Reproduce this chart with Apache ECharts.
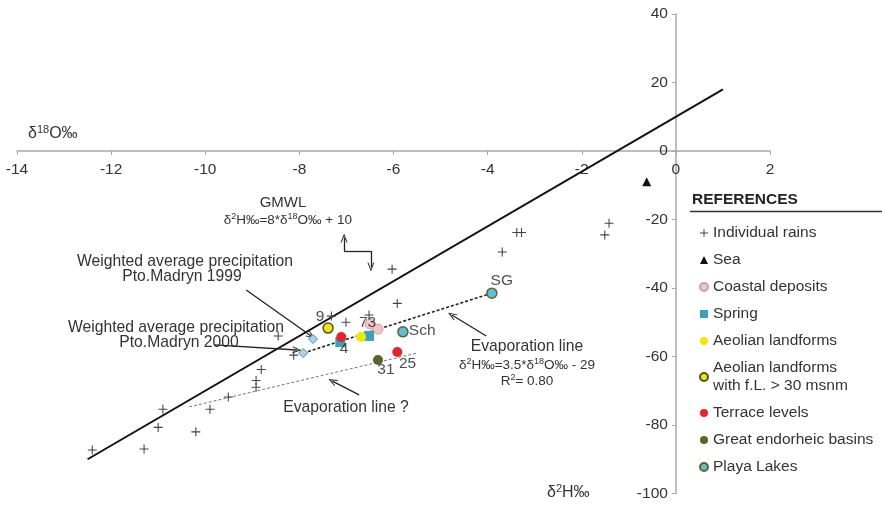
<!DOCTYPE html>
<html><head><meta charset="utf-8">
<script src="https://cdn.jsdelivr.net/npm/echarts@6/dist/echarts.min.js"></script>
<style>html,body{margin:0;padding:0;background:#fff}#c{width:882px;height:507px}</style>
</head><body><div id="c"></div>
<script>
// ---- data ----
const xTicks = [-14, 2, 2];           // x axis min, max, interval (δ18O‰)
const yTicks = [-100, 40, 20];        // y axis min, max, interval (δ2H‰)
const rains = [[-12.40,-87.3],[-11.30,-87.0],[-11.00,-80.7],[-10.90,-75.4],[-10.20,-82.0],[-9.90,-75.4],[-9.51,-71.8],[-8.92,-69.0],[-8.92,-67.0],[-8.81,-63.8],[-8.45,-54.0],[-8.12,-59.6],[-7.32,-48.2],[-7.01,-50.0],[-6.52,-47.9],[-5.92,-44.5],[-6.03,-34.5],[-3.69,-29.5],[-3.38,-23.8],[-3.28,-23.8],[-1.42,-21.1],[-1.51,-24.5]];
const sea = [[-0.62,-9.0]];
const coastal = [[-6.50,-50.5],[-6.33,-52.0]];
const spring = [[-6.52,-54.0],[-7.13,-55.8]];
const aeolian = [[-6.69,-54.3]];
const aeolianFL = [[-7.39,-51.7]];
const terrace = [[-7.11,-54.3],[-5.92,-58.7]];
const basins = [[-6.33,-61.0]];
const playa = [[-5.80,-52.8],[-3.91,-41.5]];
const weighted = [[-7.71,-54.9],[-7.92,-59.0]];
const gmwl = [[-12.5,-90],[1,18]];
const evapLine = [[-7.92,-59.0],[-3.91,-41.5]];
const evapLineQ = [[-10.34,-74.7],[-5.50,-59.0]];
const pointLabelTexts = ['9','73','4','Sch','SG','25','31'];
const pointLabelAt = [[-7.56,-48.3],[-6.55,-50.0],[-7.05,-57.8],[-5.39,-52.5],[-3.70,-38.0],[-5.70,-62.2],[-6.16,-64.0]];
const arrows = [ // [tail, head]
  [[-9.13,-40.6],[-7.75,-54.0]],
  [[-9.81,-56.6],[-8.05,-58.1]],
  [[-4.03,-54.0],[-4.76,-47.9]],
  [[-6.73,-71.2],[-7.30,-67.2]],
  [[-7.05,-29.2],[-7.05,-25.4]],
  [[-6.48,-29.2],[-6.48,-33.9]]
];
const stepLink = [[-7.05,-29.2],[-6.48,-29.2]];
const legendNames = ['Individual rains','Sea','Coastal deposits','Spring','Aeolian landforms','Aeolian landforms\nwith f.L. > 30 msnm','Terrace levels','Great endorheic basins','Playa Lakes'];

// ---- chart ----
const FONT = '"Liberation Sans", Arial, Helvetica, sans-serif';
const chart = echarts.init(document.getElementById('c'), null, {renderer:'canvas'});
const plusPath = 'path://M4.4,0h1.2v10h-1.2z M0,4.4h10v1.2h-10z';
const chevron = 'path://M5,0 L10,10 L8.6,10 L5,3 L1.4,10 L0,10 Z';
const W = 882, H = 507, GL = 17, GR = 112, GT = 14, GB = 13.5;
const pw = W - GL - GR, ph = H - GT - GB;
const zeroX = GL + pw * (0 - xTicks[0]) / (xTicks[1] - xTicks[0]);
const zeroY = GT + ph * (yTicks[1] - 0) / (yTicks[1] - yTicks[0]);

function sc(name, data, symbol, size, color, border, bw){
  return {type:'scatter', name, data, symbol, symbolSize:size,
    itemStyle:{color, borderColor:border||color, borderWidth:bw||0, opacity:1}, z:5};
}
const richDef = (fs)=>({
  n:{fontSize:fs, fontFamily:FONT, color:'#333', lineHeight:fs+3},
  s:{fontSize:Math.round(fs*0.68), fontFamily:FONT, color:'#333', verticalAlign:'top', lineHeight:fs+3}
});
function gtext(x,y,text,fs){
  return {type:'text', x, y, z:50, style:{text, fill:'#333', font: fs+'px '+FONT, align:'center', verticalAlign:'middle'}};
}
function grich(x,y,text,fs,align){
  return {type:'text', x, y, z:50, style:{text, rich:richDef(fs), align:align||'center', verticalAlign:'middle', font: fs+'px '+FONT, fill:'#333'}};
}

const markArrows = arrows.map(a=>[{coord:a[0], symbol:'none'},{coord:a[1], symbol:chevron}]);
markArrows.push([{coord:stepLink[0], symbol:'none'},{coord:stepLink[1], symbol:'none'}]);

const option = {
  animation:false,
  backgroundColor:'#fff',
  grid:{left:GL, right:GR, top:GT, bottom:GB, containLabel:false, outerBoundsMode:'none'},
  xAxis:{type:'value', min:xTicks[0], max:xTicks[1], interval:xTicks[2], position:'bottom',
    offset: -(H - GB - zeroY),
    axisLine:{onZero:false, lineStyle:{color:'#a8a8a8', width:1.5}},
    axisTick:{show:true, length:4, lineStyle:{color:'#a8a8a8'}},
    axisLabel:{color:'#333', fontSize:15.5, fontFamily:FONT, margin:11},
    splitLine:{show:false}},
  yAxis:{type:'value', min:yTicks[0], max:yTicks[1], interval:yTicks[2], position:'left',
    offset: -(zeroX - GL),
    axisLine:{onZero:false, lineStyle:{color:'#a8a8a8', width:1.5}},
    axisTick:{show:true, length:4, lineStyle:{color:'#a8a8a8'}},
    axisLabel:{color:'#333', fontSize:15.5, fontFamily:FONT, margin:8},
    splitLine:{show:false}},
  legend:{data:legendNames, orient:'vertical', left:694, top:219, itemWidth:8, itemHeight:8, itemGap:9,
    textStyle:{fontSize:15.5, fontFamily:FONT, color:'#333', lineHeight:18}, selectedMode:false},
  series:[
    {type:'line', name:'GMWL', data:gmwl, symbol:'none', lineStyle:{color:'#111', width:2}, z:3, silent:true,
      markLine:{silent:true, animation:false, symbolSize:[7,9], label:{show:false},
        lineStyle:{color:'#222', width:1.3, type:'solid'}, emphasis:{disabled:true}, data:markArrows}},
    {type:'line', name:'evap', data:evapLine, symbol:'none', lineStyle:{color:'#222', width:1.6, type:[3,2]}, z:3, silent:true},
    {type:'line', name:'evapQ', data:evapLineQ, symbol:'none', lineStyle:{color:'#777', width:1, type:[3,2]}, z:3, silent:true},
    sc('Individual rains', rains, plusPath, 9, '#444'),
    sc('Sea', sea, 'triangle', 9, '#111'),
    sc('Coastal deposits', coastal, 'circle', 10, '#f4c4c8', '#c9a0a4', 1),
    sc('Spring', spring, 'rect', 10, '#3ba2bd'),
    sc('Aeolian landforms', aeolian, 'circle', 10, '#f3e600'),
    sc('Aeolian landforms\nwith f.L. > 30 msnm', aeolianFL, 'circle', 10, '#f2e21c', '#55531c', 1.5),
    sc('Terrace levels', terrace, 'circle', 10, '#e8222a'),
    sc('Great endorheic basins', basins, 'circle', 10, '#5e6128'),
    sc('Playa Lakes', playa, 'circle', 10, '#5cc0d9', '#626128', 1.5),
    sc('Weighted', weighted, 'diamond', 9, '#a9d4ea', '#4a8fb8', 1),
    {type:'scatter', name:'labels', data:pointLabelAt.map((c,i)=>({value:c, name:pointLabelTexts[i]})),
      symbolSize:0, silent:true, z:6,
      label:{show:true, position:'inside', formatter:(p)=>p.name, fontSize:15.5, fontFamily:FONT, color:'#222'}}
  ],
  graphic:[
    gtext(283,203,'GMWL',15),
    grich(352,220,'{n|δ}{s|2}{n|H‰=8*δ}{s|18}{n|O‰ + 10}',13.5,'right'),
    gtext(185,262,'Weighted average precipitation',15.7),
    gtext(182,277,'Pto.Madryn 1999',15.7),
    gtext(176,328,'Weighted average precipitation',15.7),
    gtext(179,343,'Pto.Madryn 2000',15.7),
    gtext(527,347,'Evaporation line',15.7),
    grich(527,365,'{n|δ}{s|2}{n|H‰=3.5*δ}{s|18}{n|O‰ - 29}',13.5),
    grich(527,381,'{n|R}{s|2}{n|= 0.80}',13.5),
    gtext(346,408,'Evaporation line ?',15.7),
    grich(28,134,'{n|δ}{s|18}{n|O‰}',16,'left'),
    grich(547,493,'{n|δ}{s|2}{n|H‰}',16,'left'),
    {type:'text', x:692, y:200, z:50, style:{text:'REFERENCES', font:'bold 15.5px '+FONT, fill:'#222', align:'left', verticalAlign:'middle'}},
    {type:'line', z:50, shape:{x1:690, y1:211.5, x2:882, y2:211.5}, style:{stroke:'#333', lineWidth:1.5}}
  ]
};
chart.setOption(option);
</script></body></html>
